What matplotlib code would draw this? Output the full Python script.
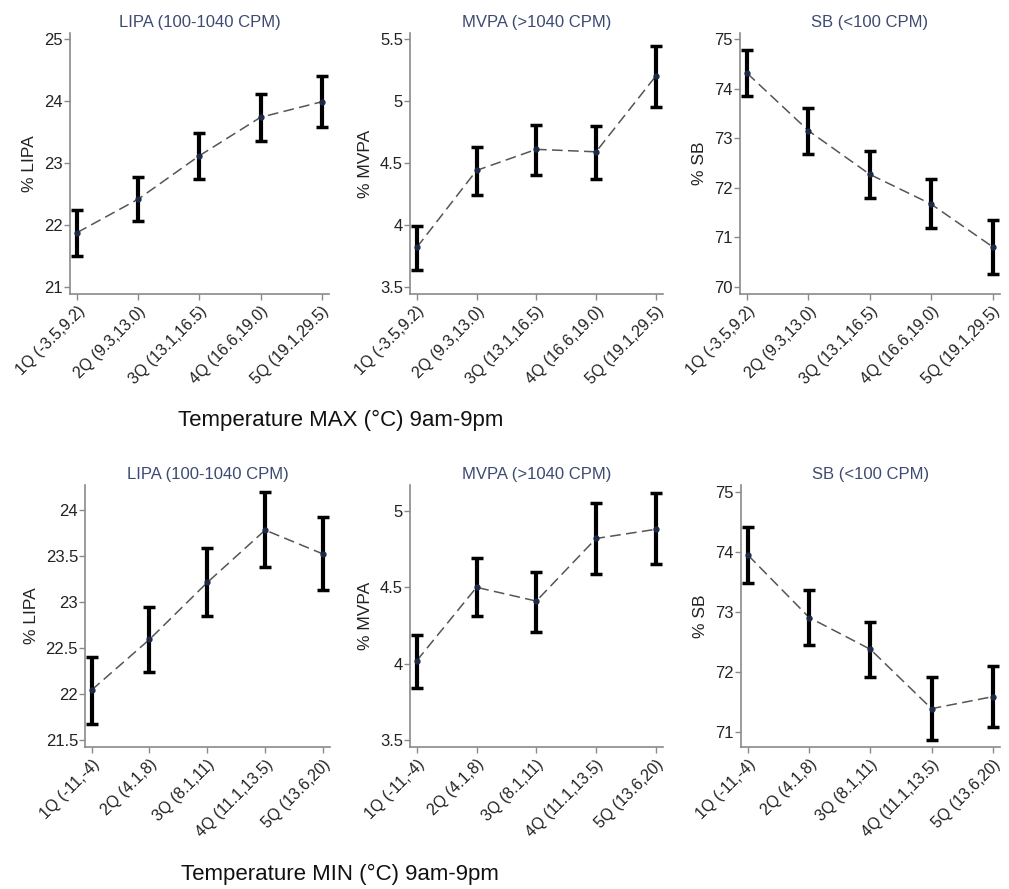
import numpy as np
import matplotlib
matplotlib.use("Agg")
import matplotlib.pyplot as plt

plt.rcParams['font.family'] = ['Liberation Sans', 'DejaVu Sans']

# categories (quintiles of temperature)
max_labels = ['1Q (-3.5,9.2)', '2Q (9.3,13.0)', '3Q (13.1,16.5)', '4Q (16.6,19.0)', '5Q (19.1,29.5)']
min_labels = ['1Q (-11,-4)', '2Q (4.1,8)', '3Q (8.1,11)', '4Q (11.1,13.5)', '5Q (13.6,20)']

# Temperature MAX row: mean, lower CI, upper CI
max_lipa = [21.88, 22.42, 23.12, 23.74, 23.99]
max_lipa_lo = [21.51, 22.06, 22.75, 23.36, 23.59]
max_lipa_hi = [22.25, 22.78, 23.48, 24.12, 24.40]

max_mvpa = [3.82, 4.44, 4.61, 4.59, 5.20]
max_mvpa_lo = [3.64, 4.24, 4.40, 4.37, 4.95]
max_mvpa_hi = [3.99, 4.63, 4.81, 4.80, 5.44]

max_sb = [74.31, 73.15, 72.27, 71.67, 70.81]
max_sb_lo = [73.85, 72.69, 71.80, 71.18, 70.27]
max_sb_hi = [74.77, 73.61, 72.75, 72.17, 71.35]

# Temperature MIN row
min_lipa = [22.04, 22.59, 23.21, 23.78, 23.52]
min_lipa_lo = [21.67, 22.24, 22.85, 23.38, 23.13]
min_lipa_hi = [22.40, 22.94, 23.58, 24.19, 23.92]

min_mvpa = [4.02, 4.50, 4.41, 4.82, 4.88]
min_mvpa_lo = [3.84, 4.31, 4.21, 4.59, 4.65]
min_mvpa_hi = [4.19, 4.69, 4.60, 5.05, 5.12]

min_sb = [73.95, 72.91, 72.38, 71.39, 71.59]
min_sb_lo = [73.48, 72.45, 71.91, 70.86, 71.08]
min_sb_hi = [74.42, 73.37, 72.84, 71.92, 72.10]

titles = ['LIPA (100-1040 CPM)', 'MVPA (>1040 CPM)', 'SB (<100 CPM)']
ylabels = ['% LIPA', '% MVPA', '% SB']

panels = [
    # (labels, mean, lo, hi, ylim, yticks, axes rect)
    (max_labels, max_lipa, max_lipa_lo, max_lipa_hi, (20.89, 25.1), [21, 22, 23, 24, 25], [0.0694, 0.6693, 0.2567, 0.2936]),
    (max_labels, max_mvpa, max_mvpa_lo, max_mvpa_hi, (3.444, 5.548), [3.5, 4, 4.5, 5, 5.5], [0.4063, 0.6693, 0.2507, 0.2936]),
    (max_labels, max_sb, max_sb_lo, max_sb_hi, (69.86, 75.12), [70, 71, 72, 73, 74, 75], [0.7334, 0.6693, 0.2577, 0.2936]),
    (min_labels, min_lipa, min_lipa_lo, min_lipa_hi, (21.42, 24.27), [21.5, 22, 22.5, 23, 23.5, 24], [0.0842, 0.1597, 0.2428, 0.2947]),
    (min_labels, min_mvpa, min_mvpa_lo, min_mvpa_hi, (3.454, 5.17), [3.5, 4, 4.5, 5], [0.4063, 0.1597, 0.2507, 0.2947]),
    (min_labels, min_sb, min_sb_lo, min_sb_hi, (70.75, 75.12), [71, 72, 73, 74, 75], [0.7344, 0.1597, 0.2567, 0.2947]),
]

fig = plt.figure(figsize=(10.09, 8.89), dpi=100)
spine_col = '#8a8a8a'

for i, (labels, mean, lo, hi, ylim, yticks, rect) in enumerate(panels):
    ax = fig.add_axes(rect)
    x = np.arange(1, 6)
    mean = np.array(mean)
    yerr = [mean - np.array(lo), np.array(hi) - mean]
    ax.plot(x, mean, linestyle=(0, (7, 3.5)), color='#555555', lw=1.1, zorder=2)
    ax.errorbar(x, mean, yerr=yerr, fmt='none', ecolor='black', elinewidth=3,
                capsize=4.5, capthick=2.5, zorder=3)
    ax.plot(x, mean, 'o', color='#1c2a48', ms=3.5, zorder=4)
    ax.set_xlim(0.885, 5.12)
    ax.set_ylim(*ylim)
    ax.set_yticks(yticks)
    ax.set_yticklabels(['%g' % t for t in yticks])
    ax.set_xticks(x)
    ax.set_xticklabels(labels, rotation=45, ha='right', rotation_mode='anchor')
    for s in ['top', 'right']:
        ax.spines[s].set_visible(False)
    for s in ['left', 'bottom']:
        ax.spines[s].set_color(spine_col)
        ax.spines[s].set_linewidth(1.2)
    ax.tick_params(axis='both', colors=spine_col, length=4, width=1)
    ax.tick_params(axis='y', labelsize=12, labelcolor='#222222', pad=1)
    ax.tick_params(axis='x', labelsize=11.5, labelcolor='#222222', pad=3)
    ax.set_title(titles[i % 3], fontsize=12, color='#3d4a72', pad=4)
    ax.set_ylabel(ylabels[i % 3], fontsize=12.5, color='#222222', labelpad=5)

fig.text(0.338, 1 - 420 / 889, 'Temperature MAX (°C) 9am-9pm', fontsize=16,
         ha='center', va='center', color='#111111')
fig.text(0.337, 1 - 874 / 889, 'Temperature MIN (°C) 9am-9pm', fontsize=16,
         ha='center', va='center', color='#111111')

fig.savefig('out.png', dpi=100, facecolor='white')
